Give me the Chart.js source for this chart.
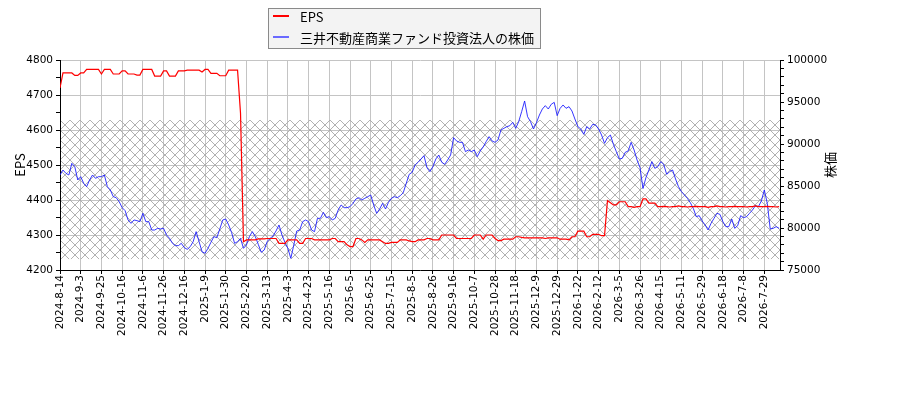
<!DOCTYPE html>
<html>
<head>
<meta charset="utf-8">
<title>EPS と株価</title>
<script src="https://cdn.jsdelivr.net/npm/chart.js@4"></script>
<style>
  body { margin: 0; background: #fff; }
  #wrap { position: relative; width: 900px; height: 400px; }
  #legend {
    position: absolute; left: 268px; top: 8px; width: 271px; height: 39px;
    background: #f3f3f3; border: 1px solid #8a8a8a;
    font-family: 'Noto Sans CJK JP', sans-serif; font-size: 13px; color: #000;
  }
  #legend .row { position: absolute; left: 4px; height: 18px; display: flex; align-items: center; white-space: nowrap; }
  #legend .sw { width: 16px; height: 2px; margin-right: 11px; }
</style>
</head>
<body>
<div id="wrap">
  <canvas id="c" width="900" height="400"></canvas>
  <div id="legend">
    <div class="row" style="top:-2px"><span class="sw" style="background:#ff0000"></span>EPS</div>
    <div class="row" style="top:19px"><span class="sw" style="background:#6a6aff"></span>三井不動産商業ファンド投資法人の株価</div>
  </div>
</div>
<script>
// one x tick every 7 samples (samples are ~2 trading days apart)
const STEP = 7;
const tickDates = [
  '2024-8-14', '2024-9-3', '2024-9-25', '2024-10-16', '2024-11-6', '2024-11-26', '2024-12-16',
  '2025-1-9', '2025-1-30', '2025-2-20', '2025-3-13', '2025-4-3', '2025-4-23', '2025-5-16',
  '2025-6-5', '2025-6-25', '2025-7-15', '2025-8-5', '2025-8-26', '2025-9-16', '2025-10-7',
  '2025-10-28', '2025-11-18', '2025-12-9', '2025-12-29', '2026-1-22', '2026-2-12', '2026-3-5',
  '2026-3-26', '2026-4-15', '2026-5-11', '2026-5-29', '2026-6-18', '2026-7-8', '2026-7-29'
];

// EPS (left axis), one row per tick interval
const eps = [
  4720, 4763, 4763, 4763, 4763, 4756, 4756,
  4763, 4763, 4773, 4773, 4773, 4773, 4773,
  4760, 4773, 4773, 4773, 4760, 4760, 4760,
  4769, 4769, 4760, 4760, 4760, 4757, 4757,
  4773, 4773, 4773, 4773, 4754, 4754, 4754,
  4769, 4769, 4754, 4754, 4754, 4769, 4769,
  4769, 4771, 4771, 4771, 4771, 4771, 4766,
  4773, 4773, 4762, 4762, 4762, 4755, 4755,
  4755, 4771, 4771, 4771, 4771, 4648, 4281,
  4286, 4286, 4286, 4286, 4289, 4289, 4289,
  4290, 4290, 4290, 4290, 4276, 4276, 4276,
  4286, 4286, 4286, 4286, 4276, 4276, 4290,
  4290, 4290, 4286, 4286, 4286, 4286, 4286,
  4286, 4290, 4290, 4281, 4281, 4281, 4272,
  4267, 4267, 4290, 4290, 4286, 4279, 4286,
  4286, 4286, 4286, 4286, 4281, 4276, 4276,
  4279, 4279, 4279, 4286, 4286, 4286, 4283,
  4281, 4281, 4286, 4286, 4286, 4290, 4290,
  4286, 4286, 4286, 4300, 4300, 4300, 4300,
  4300, 4290, 4290, 4290, 4290, 4290, 4290,
  4300, 4300, 4300, 4288, 4300, 4300, 4300,
  4290, 4284, 4284, 4288, 4288, 4288, 4288,
  4295, 4295, 4293, 4292, 4292, 4292, 4292,
  4292, 4292, 4292, 4290, 4292, 4292, 4292,
  4292, 4288, 4288, 4288, 4286, 4295, 4295,
  4311, 4311, 4311, 4295, 4295, 4302, 4302,
  4302, 4298, 4298, 4398, 4392, 4386, 4386,
  4395, 4395, 4395, 4381, 4381, 4379, 4381,
  4381, 4403, 4403, 4391, 4391, 4391, 4381,
  4381, 4382, 4381, 4380, 4381, 4381, 4383,
  4381, 4381, 4380, 4381, 4381, 4382, 4381,
  4381, 4381, 4379, 4381, 4381, 4383, 4381,
  4381, 4380, 4381, 4381, 4382, 4381, 4381,
  4381, 4380, 4381, 4381, 4383, 4381, 4381,
  4381, 4382, 4381, 4381, 4380, 4381
];

// share price (right axis)
const price = [
  86310, 86900, 86510, 86310, 87700, 87300, 85715,
  86110, 85320, 84920, 85715, 86310, 85915, 86110,
  86110, 86310, 84920, 84525, 83730, 83610, 83135,
  82420, 82065, 80955, 80555, 80955, 80875, 80755,
  81745, 80755, 80755, 79760, 79760, 79960, 79880,
  79960, 79170, 78770, 78175, 77900, 77900, 78175,
  77660, 77460, 77780, 78370, 79565, 78370, 77180,
  76985, 77580, 78295, 78970, 78850, 79880, 80955,
  81075, 80360, 79445, 78175, 78370, 78770, 77580,
  77980, 78970, 79565, 78970, 78055, 77105, 77380,
  78370, 78770, 79050, 79645, 80360, 79170, 78295,
  77580, 76390, 77975, 79645, 79760, 80755, 80955,
  80755, 79760, 79565, 81150, 81150, 81865, 81230,
  81350, 80955, 81150, 82145, 82740, 82420, 82420,
  82540, 82935, 83455, 83610, 83335, 83535, 83730,
  83930, 82740, 81745, 82260, 82935, 82260, 83055,
  83535, 83730, 83610, 83850, 84205, 85320, 86390,
  86630, 87500, 87820, 88215, 88610, 87185, 86707,
  87300, 88215, 88690, 87820, 87580, 88095, 88690,
  90755, 90360, 90200, 90200, 89090, 89285, 89090,
  89285, 88490, 89170, 89645, 90280, 90875, 90360,
  90200, 90475, 91670, 91865, 92065, 92180, 92580,
  91865, 92660, 93850, 95120, 93255, 92660, 91785,
  92540, 93450, 94165, 94565, 94165, 94725, 94960,
  93375, 94245, 94645, 94245, 94445, 93930, 92975,
  92065, 91785, 91150, 92065, 91785, 92340, 92265,
  91785, 91070, 90080, 90755, 91070, 89960, 89090,
  88215, 88295, 89010, 89170, 90200, 89285, 88095,
  87185, 84700, 86000, 86905, 87900, 87100, 87300,
  87900, 87580, 86390, 86705, 86905, 85835, 84920,
  84325, 83930, 83535, 83015, 82340, 81350, 81470,
  80835, 80360, 79765, 80555, 81150, 81745, 81625,
  80755, 80160, 80160, 81070, 79960, 80280, 81470,
  81230, 81350, 81745, 82145, 82660, 82540, 83215,
  84525, 82935, 79880, 79960, 80160, 79960
];

// hatched band, in share price units
const bandHigh = 92850;
const bandLow = 76300;

const tickFont = { family: 'DejaVu Sans', size: 10.5 };
const gridGray = '#c4c4c4';

function hatchPattern(ctx) {
  const t = document.createElement('canvas');
  t.width = 10; t.height = 10;
  const c = t.getContext('2d');
  c.strokeStyle = '#a8a8a8';
  c.lineWidth = 0.9;
  c.beginPath();
  c.moveTo(-1, -1); c.lineTo(11, 11);
  c.moveTo(11, -1); c.lineTo(-1, 11);
  c.stroke();
  return ctx.createPattern(t, 'repeat');
}

const hatchBand = {
  id: 'hatchBand',
  beforeDatasetsDraw(chart) {
    const { ctx, chartArea } = chart;
    const s = chart.scales.y2;
    const top = s.getPixelForValue(bandHigh);
    const bottom = s.getPixelForValue(bandLow);
    ctx.save();
    ctx.fillStyle = hatchPattern(ctx);
    ctx.fillRect(chartArea.left + 1, top, chartArea.right - chartArea.left - 1, bottom - top);
    ctx.restore();
  }
};

// matplotlib style right label, reading bottom to top
const rightTitle = {
  id: 'rightTitle',
  afterDraw(chart) {
    const s = chart.scales.y2;
    const ctx = chart.ctx;
    ctx.save();
    ctx.translate(s.left + 50, (s.top + s.bottom) / 2);
    ctx.rotate(-Math.PI / 2);
    ctx.font = "13px 'Noto Sans CJK JP'";
    ctx.fillStyle = '#000';
    ctx.textAlign = 'center';
    ctx.textBaseline = 'middle';
    ctx.fillText('株価', 0, 0);
    ctx.restore();
  }
};

new Chart(document.getElementById('c'), {
  type: 'line',
  data: {
    datasets: [
      {
        label: 'EPS',
        data: eps.map((v, i) => ({ x: i, y: v })),
        yAxisID: 'y',
        borderColor: '#ff0000',
        borderWidth: 1.2,
        pointRadius: 0,
        tension: 0
      },
      {
        label: '三井不動産商業ファンド投資法人の株価',
        data: price.map((v, i) => ({ x: i, y: v })),
        yAxisID: 'y2',
        borderColor: 'rgba(20,20,255,0.85)',
        borderWidth: 1,
        pointRadius: 0,
        tension: 0
      }
    ]
  },
  options: {
    responsive: false,
    animation: false,
    devicePixelRatio: 1,
    layout: { padding: { top: 60, left: 0, right: 0, bottom: 0 } },
    plugins: { legend: { display: false }, tooltip: { enabled: false } },
    scales: {
      x: {
        type: 'linear',
        min: 0,
        max: 243.3,
        afterFit: s => { s.height = 130; },
        ticks: {
          stepSize: STEP, maxTicksLimit: 1000, autoSkip: false, includeBounds: false,
          minRotation: 90, maxRotation: 90, padding: 1,
          font: tickFont, color: '#000',
          callback: v => tickDates[Math.round(v / STEP)] || ''
        },
        grid: { color: gridGray, tickColor: '#000', tickLength: 4 },
        border: { color: '#000' }
      },
      y: {
        position: 'left',
        min: 4200,
        max: 4800,
        afterFit: s => { s.width = 60; },
        ticks: {
          stepSize: 50, maxTicksLimit: 1000, autoSkip: false, padding: 3,
          font: tickFont, color: '#000',
          callback: v => (v % 100 === 0 ? String(v) : '')
        },
        grid: {
          color: c => (c.tick && c.tick.value % 100 === 0 ? gridGray : 'rgba(0,0,0,0)'),
          tickColor: '#000', tickLength: 4
        },
        border: { color: '#000' },
        title: {
          display: true, text: 'EPS', color: '#000',
          font: { family: 'Noto Sans CJK JP', size: 13 },
          padding: { top: 12, bottom: 0 }
        }
      },
      y2: {
        position: 'right',
        min: 75000,
        max: 100000,
        afterFit: s => { s.width = 120; },
        ticks: {
          stepSize: 1000, maxTicksLimit: 1000, autoSkip: false, padding: 3,
          font: tickFont, color: '#000',
          callback: v => (v % 5000 === 0 ? String(v) : '')
        },
        grid: { drawOnChartArea: false, tickColor: '#000', tickLength: 4 },
        border: { color: '#000' }
      }
    }
  },
  plugins: [hatchBand, rightTitle]
});
</script>
</body>
</html>
